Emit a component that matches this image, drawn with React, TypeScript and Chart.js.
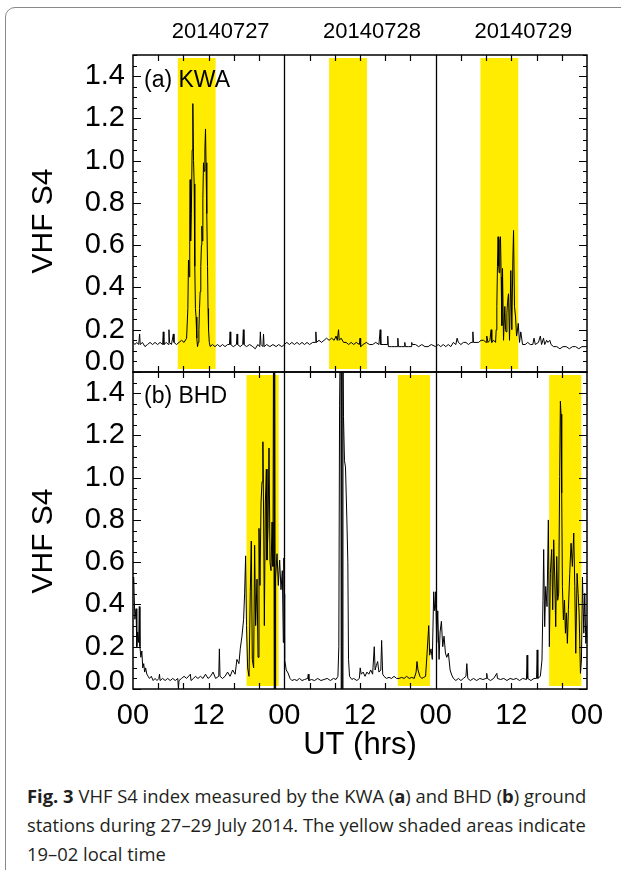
import React, { useEffect, useRef } from "react";
import { Chart, registerables } from "chart.js";
Chart.register(...registerables);

// ---------- data ----------
const dayLabels = ["20140727", "20140728", "20140729"];
const xTickHours = [0, 12, 24, 36, 48, 60, 72];
const xTickLabels = ["00", "12", "00", "12", "00", "12", "00"];
const yTickValues = [0, 0.2, 0.4, 0.6, 0.8, 1.0, 1.2, 1.4];
const yTickLabels = ["0.0", "0.2", "0.4", "0.6", "0.8", "1.0", "1.2", "1.4"];
const kwaShadeUT = [7.1, 13.1];
const bhdShadeUT = [18.0, 23.1];

// [UT hour of day, S4]
const kwa27 = [
  [0, 0.14], [0.3, 0.13], [0.6, 0.14], [0.9, 0.13], [1.05, 0.18], [1.15, 0.13], [1.5, 0.14], [1.9, 0.12],
  [2.3, 0.13], [2.7, 0.14], [3.1, 0.13], [3.5, 0.14], [3.9, 0.13], [4.3, 0.14], [4.7, 0.13], [4.8, 0.19],
  [4.9, 0.13], [5.3, 0.14], [5.6, 0.13], [5.7, 0.2], [5.8, 0.14], [6.1, 0.13], [6.4, 0.18], [6.5, 0.14],
  [6.9, 0.13], [7.3, 0.14], [7.7, 0.15], [8.1, 0.14], [8.5, 0.16], [8.7, 0.3], [8.8, 0.53], [8.9, 0.45],
  [9.0, 0.7], [9.06, 0.91], [9.14, 0.62], [9.25, 0.75], [9.38, 1.05], [9.49, 1.27], [9.6, 1.0], [9.7, 0.89],
  [9.8, 0.5], [9.9, 0.3], [10.0, 0.26], [10.12, 0.16], [10.23, 0.12], [10.35, 0.14], [10.45, 0.2], [10.55, 0.3],
  [10.65, 0.38], [10.75, 0.5], [10.85, 0.6], [10.92, 0.69], [11.0, 0.62], [11.08, 0.82], [11.18, 0.99],
  [11.28, 0.95], [11.4, 1.05], [11.5, 1.15], [11.58, 0.99], [11.7, 0.75], [11.82, 0.5], [11.9, 0.3],
  [11.98, 0.2], [12.1, 0.14], [12.24, 0.12], [12.6, 0.13], [13.0, 0.12], [13.4, 0.13], [13.8, 0.12],
  [14.2, 0.13], [14.6, 0.12], [15.0, 0.13], [15.3, 0.13], [15.4, 0.19], [15.5, 0.13], [15.9, 0.12],
  [16.4, 0.13], [16.5, 0.18], [16.6, 0.13], [17.0, 0.12], [17.4, 0.13], [17.5, 0.2], [17.6, 0.13],
  [18.0, 0.12], [18.5, 0.13], [19.0, 0.12], [19.4, 0.11], [19.8, 0.13], [20.1, 0.12], [20.2, 0.19],
  [20.3, 0.13], [20.6, 0.12], [20.7, 0.18], [20.8, 0.12], [21.2, 0.13], [21.7, 0.12], [22.2, 0.13],
  [22.7, 0.12], [23.1, 0.13], [23.6, 0.12], [24, 0.13],
];
const kwa28 = [
  [0, 0.13], [0.4, 0.14], [0.8, 0.13], [1.2, 0.14], [1.6, 0.13], [2.0, 0.14], [2.4, 0.13], [2.8, 0.14],
  [3.2, 0.13], [3.6, 0.14], [4.0, 0.13], [4.5, 0.14], [4.9, 0.14], [5.0, 0.19], [5.1, 0.14], [5.5, 0.15],
  [5.9, 0.14], [6.3, 0.15], [6.7, 0.16], [7.1, 0.15], [7.5, 0.16], [7.9, 0.15], [8.2, 0.17], [8.4, 0.15],
  [8.6, 0.2], [8.7, 0.15], [9.0, 0.16], [9.4, 0.14], [9.8, 0.14], [10.2, 0.13], [10.6, 0.14], [11.0, 0.13],
  [11.4, 0.14], [11.9, 0.13], [12.0, 0.16], [12.1, 0.12], [12.5, 0.13], [13.0, 0.14], [13.5, 0.13],
  [14.0, 0.13], [14.5, 0.14], [15.0, 0.13], [15.2, 0.2], [15.3, 0.13], [15.8, 0.13], [16.3, 0.13],
  [16.4, 0.17], [16.5, 0.12], [17.0, 0.12], [17.5, 0.12], [17.9, 0.12], [18.0, 0.16], [18.1, 0.12],
  [18.6, 0.12], [19.0, 0.12], [19.1, 0.14], [19.2, 0.12], [19.7, 0.12], [20.1, 0.12], [20.2, 0.14],
  [20.3, 0.13], [20.8, 0.13], [21.3, 0.12], [21.8, 0.13], [22.3, 0.12], [22.8, 0.12], [23.3, 0.13], [24, 0.12],
];
const kwa29 = [
  [0, 0.12], [0.4, 0.13], [0.8, 0.12], [1.2, 0.13], [1.6, 0.12], [2.0, 0.13], [2.4, 0.12], [2.8, 0.14],
  [3.2, 0.13], [3.4, 0.16], [3.6, 0.14], [4.0, 0.13], [4.4, 0.14], [4.8, 0.14], [5.2, 0.13], [5.6, 0.14],
  [5.8, 0.14], [5.9, 0.19], [6.0, 0.14], [6.4, 0.14], [6.8, 0.14], [7.2, 0.15], [7.6, 0.15], [8.0, 0.14],
  [8.1, 0.17], [8.3, 0.14], [8.6, 0.15], [8.8, 0.2], [8.9, 0.14], [9.2, 0.15], [9.5, 0.14], [9.6, 0.2],
  [9.7, 0.31], [9.8, 0.5], [9.9, 0.64], [10.0, 0.5], [10.07, 0.47], [10.18, 0.62], [10.28, 0.64],
  [10.39, 0.45], [10.5, 0.22], [10.6, 0.49], [10.76, 0.15], [10.97, 0.31], [11.08, 0.2], [11.18, 0.19],
  [11.3, 0.28], [11.4, 0.33], [11.55, 0.37], [11.71, 0.15], [11.92, 0.48], [12.08, 0.2], [12.24, 0.53],
  [12.35, 0.67], [12.5, 0.31], [12.67, 0.26], [12.83, 0.17], [12.95, 0.19], [13.1, 0.23], [13.3, 0.14],
  [13.5, 0.19], [13.78, 0.13], [14.2, 0.13], [14.6, 0.14], [15.0, 0.13], [15.4, 0.13], [15.6, 0.16],
  [15.8, 0.13], [16.3, 0.14], [16.6, 0.17], [16.8, 0.13], [17.1, 0.16], [17.3, 0.13], [17.6, 0.15],
  [17.8, 0.14], [18.1, 0.15], [18.3, 0.13], [18.7, 0.12], [19.2, 0.12], [19.7, 0.11], [20.2, 0.12],
  [20.7, 0.12], [21.2, 0.11], [21.7, 0.12], [22.2, 0.12], [22.7, 0.11], [23.2, 0.12], [24, 0.12],
];
const bhd27 = [
  [0, 0.5], [0.1, 0.53], [0.3, 0.33], [0.48, 0.38], [0.6, 0.2], [0.75, 0.27], [0.9, 0.22], [1.0, 0.39],
  [1.1, 0.2], [1.25, 0.15], [1.4, 0.18], [1.55, 0.1], [1.7, 0.12], [1.85, 0.08], [2.0, 0.1], [2.2, 0.07],
  [2.4, 0.06], [2.6, 0.05], [2.9, 0.06], [3.2, 0.04], [3.5, 0.05], [3.8, 0.04], [4.1, 0.05], [4.2, 0.07],
  [4.3, 0.04], [4.7, 0.05], [5.1, 0.04], [5.5, 0.05], [5.9, 0.04], [6.3, 0.05], [6.7, 0.04], [7.1, 0.05],
  [7.2, 0.0], [7.3, 0.04], [7.7, 0.05], [8.1, 0.06], [8.5, 0.05], [9.1, 0.07], [9.2, 0.04], [9.6, 0.05],
  [9.9, 0.06], [10.3, 0.05], [10.7, 0.06], [11.1, 0.05], [11.5, 0.07], [11.9, 0.05], [12.3, 0.06],
  [12.7, 0.08], [13.1, 0.05], [13.6, 0.06], [13.7, 0.19], [13.8, 0.06], [14.2, 0.05], [14.6, 0.06],
  [15.0, 0.08], [15.4, 0.06], [15.8, 0.09], [16.2, 0.07], [16.48, 0.14], [16.8, 0.12], [17.01, 0.19],
  [17.28, 0.25], [17.54, 0.33], [17.7, 0.45], [17.86, 0.63], [18.0, 0.3], [18.18, 0.1], [18.4, 0.06],
  [18.6, 0.46], [18.76, 0.7], [18.92, 0.14], [19.13, 0.1], [19.29, 0.68], [19.45, 0.3], [19.67, 0.52],
  [19.83, 0.15], [19.98, 0.76], [20.14, 0.49], [20.3, 0.88], [20.46, 0.98], [20.6, 1.17], [20.72, 0.8],
  [20.83, 0.3], [20.99, 0.88], [21.15, 1.04], [21.25, 0.61], [21.41, 0.76], [21.57, 1.14], [21.73, 0.6],
  [21.89, 0.56], [22.05, 0.79], [22.2, 0.58], [22.3, 1.9], [22.4, -0.02], [22.46, 1.9], [22.55, -0.02],
  [22.62, 0.53], [22.84, 0.64], [23.05, 0.49], [23.26, 0.61], [23.47, 0.47], [23.68, 0.56], [23.84, 0.22],
  [23.92, 0.62], [24, 0.45],
];
const bhd28 = [
  [0, 0.45], [0.1, 0.14], [0.3, 0.09], [0.6, 0.075], [0.9, 0.05], [1.2, 0.04], [1.6, 0.045], [2.0, 0.04],
  [2.4, 0.05], [2.8, 0.04], [3.2, 0.045], [3.7, 0.05], [3.8, 0.07], [3.9, 0.04], [4.3, 0.045], [4.8, 0.04],
  [5.3, 0.05], [5.8, 0.04], [6.3, 0.045], [6.8, 0.05], [7.3, 0.04], [7.8, 0.05], [8.2, 0.045], [8.5, 0.06],
  [8.64, 0.2], [8.76, 1.34], [8.88, 1.7], [8.96, 1.9], [9.02, -0.02], [9.1, 1.9], [9.2, -0.02], [9.3, 1.6],
  [9.38, 1.29], [9.54, 1.08], [9.7, 1.05], [9.92, 0.8], [10.07, 0.6], [10.18, 0.14], [10.34, 0.06],
  [10.71, 0.045], [11.0, 0.05], [11.5, 0.04], [11.9, 0.05], [12.03, 0.1], [12.2, 0.07], [12.5, 0.08],
  [12.8, 0.06], [13.1, 0.08], [13.4, 0.07], [13.7, 0.09], [14.0, 0.07], [14.26, 0.2], [14.4, 0.09],
  [14.58, 0.11], [14.8, 0.13], [15.0, 0.08], [15.3, 0.09], [15.43, 0.23], [15.6, 0.07], [15.8, 0.06],
  [16.2, 0.05], [16.6, 0.055], [17.0, 0.05], [17.4, 0.06], [17.8, 0.05], [18.2, 0.05], [18.6, 0.055],
  [19.0, 0.05], [19.4, 0.06], [19.8, 0.05], [20.2, 0.055], [20.6, 0.05], [20.9, 0.08], [21.04, 0.13],
  [21.2, 0.09], [21.5, 0.06], [21.8, 0.05], [22.1, 0.055], [22.4, 0.06], [22.64, 0.17], [22.9, 0.3],
  [23.05, 0.16], [23.26, 0.19], [23.47, 0.14], [23.69, 0.46], [23.85, 0.37], [24, 0.4],
];
const bhd29 = [
  [0, 0.46], [0.17, 0.22], [0.33, 0.37], [0.54, 0.14], [0.7, 0.27], [0.91, 0.32], [1.12, 0.2], [1.33, 0.25],
  [1.55, 0.17], [1.76, 0.15], [2.02, 0.17], [2.29, 0.09], [2.55, 0.066], [2.82, 0.05], [3.2, 0.04],
  [3.6, 0.05], [4.0, 0.04], [4.4, 0.05], [4.8, 0.06], [4.94, 0.12], [5.1, 0.05], [5.5, 0.04], [6.0, 0.05],
  [6.5, 0.04], [7.0, 0.05], [7.5, 0.045], [8.0, 0.05], [8.1, 0.074], [8.2, 0.05], [8.7, 0.04], [9.2, 0.05],
  [9.7, 0.074], [9.8, 0.05], [10.3, 0.045], [10.8, 0.05], [11.3, 0.04], [11.8, 0.05], [12.3, 0.045],
  [12.8, 0.05], [13.3, 0.04], [13.8, 0.05], [14.4, 0.045], [14.5, 0.16], [14.6, 0.05], [15.1, 0.04],
  [15.6, 0.05], [16.0, 0.05], [16.1, 0.185], [16.2, 0.05], [16.6, 0.06], [16.86, 0.137], [17.02, 0.42],
  [17.13, 0.66], [17.29, 0.295], [17.45, 0.485], [17.66, 0.39], [17.87, 0.8], [18.03, 0.2], [18.19, 0.547],
  [18.4, 0.66], [18.56, 0.375], [18.72, 0.706], [18.88, 0.53], [19.04, 0.295], [19.2, 0.627], [19.35, 0.42],
  [19.51, 0.453], [19.67, 1.006], [19.78, 1.362], [19.88, 1.3], [19.99, 0.928], [20.1, 0.485],
  [20.26, 0.327], [20.42, 0.42], [20.58, 0.264], [20.73, 0.36], [20.89, 0.216], [21.05, 0.375],
  [21.26, 0.547], [21.47, 0.69], [21.68, 0.58], [21.9, 0.738], [22.06, 0.485], [22.22, 0.169],
  [22.43, 0.547], [22.59, 0.453], [22.75, 0.36], [22.96, 0.074], [23.12, 0.137], [23.28, 0.53],
  [23.49, 0.264], [23.65, 0.453], [23.81, 0.216], [24, 0.3],
];

// ---------- layout ----------
const W = 621;
const CH = 760;
const PLOT_LEFT = 133;
const PLOT_RIGHT = 587;
const FONT = '"Liberation Sans", Arial, Helvetica, sans-serif';

function toPoints(days: number[][][]) {
  const pts: { x: number; y: number }[] = [];
  days.forEach((day, d) => day.forEach(([h, v]) => pts.push({ x: h + 24 * d, y: v })));
  return pts;
}

type PanelCfg = {
  top: number;
  bottom: number;
  station: string;
  shade: number[];
  days: number[][][];
  showDates: boolean;
  showX: boolean;
  zeroShift: number;
  titleY: number;
  labelY: number;
};

function makeDecor(cfg: PanelCfg) {
  return {
    id: "decor",
    beforeDatasetsDraw(chart: any) {
      const { ctx, chartArea: ca, scales } = chart;
      const xs = scales.x;
      ctx.save();
      ctx.fillStyle = "#ffec00";
      for (let d = 0; d < 3; d++) {
        const x1 = xs.getPixelForValue(24 * d + cfg.shade[0]);
        const x2 = xs.getPixelForValue(24 * d + cfg.shade[1]);
        ctx.fillRect(x1, ca.top + 3, x2 - x1, ca.bottom - ca.top - 6);
      }
      ctx.restore();
    },
    afterDatasetsDraw(chart: any) {
      const { ctx, chartArea: ca, scales } = chart;
      const xs = scales.x;
      const ys = scales.y;
      ctx.save();
      ctx.strokeStyle = "#000";
      ctx.lineWidth = 1.5;
      ctx.strokeRect(ca.left, ca.top, ca.right - ca.left, ca.bottom - ca.top);
      ctx.lineWidth = 1.3;
      [24, 48].forEach((h) => {
        const px = Math.round(xs.getPixelForValue(h)) + 0.5;
        ctx.beginPath();
        ctx.moveTo(px, ca.top);
        ctx.lineTo(px, ca.bottom);
        ctx.stroke();
      });
      ctx.lineWidth = 1.2;
      for (let h = 4; h < 72; h += 4) {
        if (h % 24 === 0) continue;
        const px = Math.round(xs.getPixelForValue(h)) + 0.5;
        ctx.beginPath();
        ctx.moveTo(px, ca.top);
        ctx.lineTo(px, ca.top + 6);
        ctx.moveTo(px, ca.bottom);
        ctx.lineTo(px, ca.bottom - 6);
        ctx.stroke();
      }
      for (let i = 0; i <= 30; i++) {
        const v = i * 0.05;
        const py = Math.round(ys.getPixelForValue(v)) + 0.5;
        const len = i % 4 === 0 ? 8 : 4;
        ctx.beginPath();
        ctx.moveTo(ca.left, py);
        ctx.lineTo(ca.left + len, py);
        ctx.moveTo(ca.right, py);
        ctx.lineTo(ca.right - len, py);
        ctx.stroke();
      }
      ctx.restore();
    },
    afterDraw(chart: any) {
      const { ctx, chartArea: ca, scales } = chart;
      const xs = scales.x;
      const ys = scales.y;
      ctx.save();
      ctx.fillStyle = "#000";
      ctx.font = `29px ${FONT}`;
      ctx.textAlign = "right";
      ctx.textBaseline = "middle";
      yTickValues.forEach((v, i) => {
        const py = ys.getPixelForValue(v) + (v === 0 ? cfg.zeroShift : 0);
        ctx.fillText(yTickLabels[i], 125, py);
      });
      ctx.save();
      ctx.translate(44, cfg.titleY);
      ctx.rotate(-Math.PI / 2);
      ctx.font = `30px ${FONT}`;
      ctx.textAlign = "center";
      ctx.fillText("VHF S4", 0, 0);
      ctx.restore();
      ctx.font = `23px ${FONT}`;
      ctx.textAlign = "left";
      ctx.fillText(cfg.station, ca.left + 11, cfg.labelY);
      if (cfg.showDates) {
        ctx.font = `22px ${FONT}`;
        ctx.textAlign = "center";
        dayLabels.forEach((lab, d) => {
          ctx.fillText(lab, xs.getPixelForValue(12 + 24 * d) + 12, 32);
        });
      }
      if (cfg.showX) {
        ctx.font = `29px ${FONT}`;
        ctx.textAlign = "center";
        xTickHours.forEach((h, i) => {
          ctx.fillText(xTickLabels[i], xs.getPixelForValue(h), 716);
        });
        ctx.font = `31px ${FONT}`;
        ctx.fillText("UT (hrs)", (ca.left + ca.right) / 2, 745);
      }
      ctx.restore();
    },
  };
}

function Panel({ cfg }: { cfg: PanelCfg }) {
  const ref = useRef<HTMLCanvasElement | null>(null);
  useEffect(() => {
    if (!ref.current) return;
    const chart = new Chart(ref.current, {
      type: "line",
      data: {
        datasets: [
          {
            data: toPoints(cfg.days),
            borderColor: "#000",
            borderWidth: 1,
            pointRadius: 0,
            tension: 0,
            fill: false,
          },
        ],
      },
      options: {
        animation: false,
        responsive: false,
        maintainAspectRatio: false,
        devicePixelRatio: 1,
        events: [],
        layout: {
          padding: { left: PLOT_LEFT, right: W - PLOT_RIGHT, top: cfg.top, bottom: CH - cfg.bottom },
        },
        plugins: { legend: { display: false }, tooltip: { enabled: false } },
        scales: {
          x: { type: "linear", min: 0, max: 72, display: false },
          y: { type: "linear", min: 0, max: 1.5, display: false },
        },
      } as any,
      plugins: [makeDecor(cfg)],
    });
    return () => chart.destroy();
  }, []);
  return (
    <canvas
      ref={ref}
      width={W}
      height={CH}
      style={{ position: "absolute", left: 0, top: 0, width: W, height: CH }}
    />
  );
}

const topCfg: PanelCfg = {
  top: 55,
  bottom: 372,
  station: "(a) KWA",
  shade: kwaShadeUT,
  days: [kwa27, kwa28, kwa29],
  showDates: true,
  showX: false,
  zeroShift: -10,
  titleY: 221,
  labelY: 81,
};
const bottomCfg: PanelCfg = {
  top: 372,
  bottom: 689,
  station: "(b) BHD",
  shade: bhdShadeUT,
  days: [bhd27, bhd28, bhd29],
  showDates: false,
  showX: true,
  zeroShift: -7,
  titleY: 541,
  labelY: 397,
};

export default function App() {
  return (
    <div style={{ position: "absolute", left: 0, top: 0, width: W, height: 870, background: "#fff", overflow: "hidden" }}>
      <div
        style={{
          position: "absolute",
          left: 5,
          top: 7,
          width: 720,
          height: 920,
          border: "1.5px solid #888",
          borderRadius: 10,
        }}
      />
      <Panel cfg={topCfg} />
      <Panel cfg={bottomCfg} />
      <div
        style={{
          position: "absolute",
          left: 27,
          top: 781,
          font: '18.4px "Open Sans", sans-serif',
          lineHeight: "29px",
          color: "#231f20",
          whiteSpace: "nowrap",
        }}
      >
        <div>
          <b>Fig. 3</b> VHF S4 index measured by the KWA (<b>a</b>) and BHD (<b>b</b>) ground
        </div>
        <div>stations during 27–29 July 2014. The yellow shaded areas indicate</div>
        <div>19–02 local time</div>
      </div>
    </div>
  );
}
